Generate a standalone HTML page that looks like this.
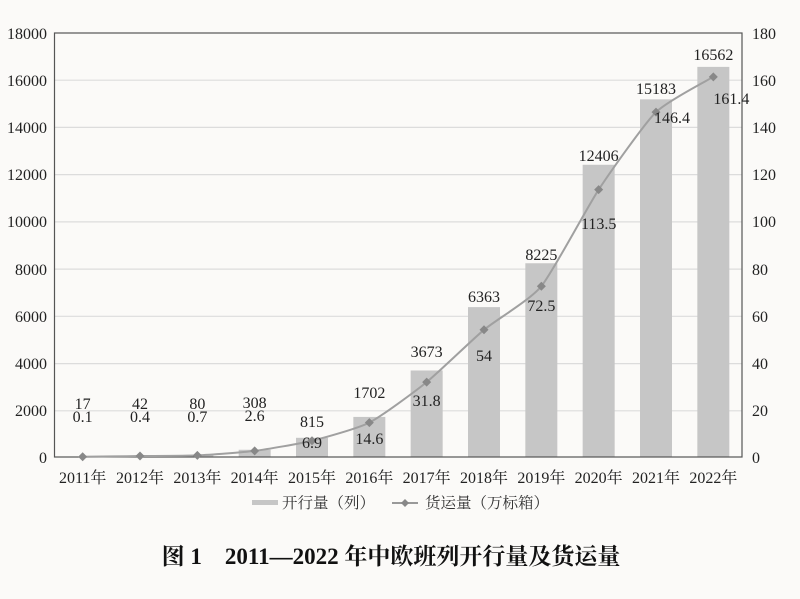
<!DOCTYPE html>
<html><head><meta charset="utf-8"><style>
html,body{margin:0;padding:0;background:#fbfaf8;}
svg{display:block;font-family:"Liberation Serif","Noto Serif CJK SC",serif;}
</style></head><body>
<svg width="800" height="599" viewBox="0 0 800 599" xmlns="http://www.w3.org/2000/svg">
<rect width="800" height="599" fill="#fbfaf8"/>
<g stroke="#dcdcdc" stroke-width="1.2">
<line x1="54" x2="742" y1="80.2" y2="80.2"/><line x1="54" x2="742" y1="127.4" y2="127.4"/>
<line x1="54" x2="742" y1="174.6" y2="174.6"/><line x1="54" x2="742" y1="221.9" y2="221.9"/>
<line x1="54" x2="742" y1="269.1" y2="269.1"/><line x1="54" x2="742" y1="316.3" y2="316.3"/>
<line x1="54" x2="742" y1="363.6" y2="363.6"/><line x1="54" x2="742" y1="410.8" y2="410.8"/>
</g>
<g fill="#c6c6c6" id="bars"></g>
<rect x="54.5" y="33" width="687.5" height="424" fill="none" stroke="#555" stroke-width="1.2"/>
<g font-size="16" fill="#222" text-anchor="end">
<text x="47" y="39">18000</text><text x="47" y="86">16000</text><text x="47" y="133">14000</text>
<text x="47" y="180">12000</text><text x="47" y="227">10000</text><text x="47" y="275">8000</text>
<text x="47" y="322">6000</text><text x="47" y="369">4000</text><text x="47" y="416">2000</text><text x="47" y="463">0</text>
</g>
<g font-size="16" fill="#222" text-anchor="start">
<text x="752" y="39">180</text><text x="752" y="86">160</text><text x="752" y="133">140</text>
<text x="752" y="180">120</text><text x="752" y="227">100</text><text x="752" y="275">80</text>
<text x="752" y="322">60</text><text x="752" y="369">40</text><text x="752" y="416">20</text><text x="752" y="463">0</text>
</g>
<g id="rest"></g>
<g font-size="15.5" fill="#333">
<rect x="252" y="500" width="26" height="5" fill="#c6c6c6"/>
<text x="282" y="508">开行量（列）</text>
<line x1="392" x2="418" y1="503" y2="503" stroke="#999" stroke-width="2"/>
<path d="M405 499 L409 503 L405 507 L401 503Z" fill="#888"/>
<text x="425" y="508">货运量（万标箱）</text>
</g>
<text x="391" y="564" text-anchor="middle" font-size="23" font-weight="bold" fill="#111">图 1　2011—2022 年中欧班列开行量及货运量</text>
<script>
var bars=[17,42,80,308,815,1702,3673,6363,8225,12406,15183,16562];
var line=[0.1,0.4,0.7,2.6,6.9,14.6,31.8,54,72.5,113.5,146.4,161.4];
var bl=[409,409,409,408,427,398,357,302,260,161,94,60];
var ll=[422,422,422,421,448,444,406,361,311,229,123,104];
var lx=[0,0,0,0,0,0,0,0,0,0,16,18];
var ns="http://www.w3.org/2000/svg",B=document.getElementById('bars'),R=document.getElementById('rest');
function cx(i){return 54+57.333*(i+0.5);}
function el(t,a,p,txt){var e=document.createElementNS(ns,t);for(var k in a)e.setAttribute(k,a[k]);if(txt!=null)e.textContent=txt;p.appendChild(e);return e;}
var pts=[];
for(var i=0;i<12;i++){var h=bars[i]*424/18000;el('rect',{x:cx(i)-16,y:457-h,width:32,height:h},B);
pts.push([cx(i),457-line[i]*424/180]);}
var d="M"+pts[0][0]+" "+pts[0][1];
for(var i=0;i<11;i++){var p0=pts[Math.max(i-1,0)],p1=pts[i],p2=pts[i+1],p3=pts[Math.min(i+2,11)],k=10;
d+=" C"+(p1[0]+(p2[0]-p0[0])/k)+" "+(p1[1]+(p2[1]-p0[1])/k)+" "+(p2[0]-(p3[0]-p1[0])/k)+" "+(p2[1]-(p3[1]-p1[1])/k)+" "+p2[0]+" "+p2[1];}
el('path',{d:d,fill:'none',stroke:'#a0a0a0','stroke-width':2},R);
for(var i=0;i<12;i++){var x=pts[i][0],y=pts[i][1];
el('path',{d:"M"+x+" "+(y-4.5)+" L"+(x+4.5)+" "+y+" L"+x+" "+(y+4.5)+" L"+(x-4.5)+" "+y+"Z",fill:'#888'},R);
el('text',{x:x,y:bl[i],'text-anchor':'middle','font-size':16,fill:'#222'},R,String(bars[i]));
el('text',{x:x+lx[i],y:ll[i],'text-anchor':'middle','font-size':16,fill:'#222'},R,String(line[i]));
el('text',{x:x,y:483,'text-anchor':'middle','font-size':16,fill:'#222'},R,(2011+i)+"年");}
</script>
</svg>
</body></html>
